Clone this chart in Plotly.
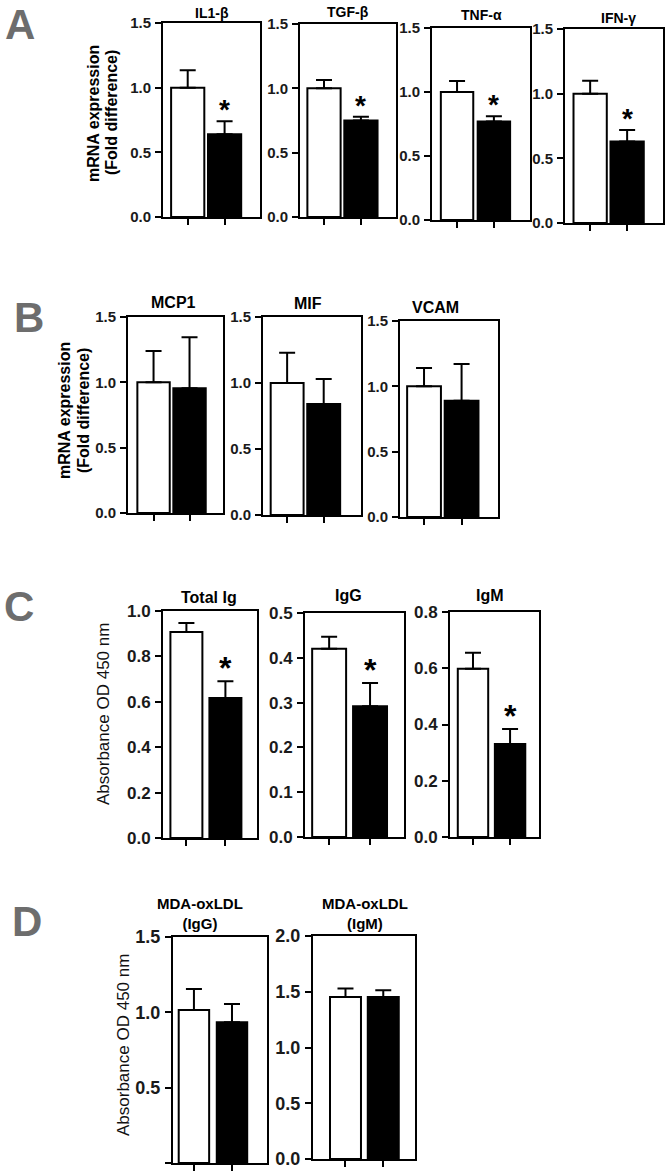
import plotly.graph_objects as go

W, H = 668, 1173

# ---------------- data ----------------
groups = ["Control", "Treated"]

a_titles = ["IL1-β", "TGF-β", "TNF-α", "IFN-γ"]
a_ctrl = [1.0, 1.0, 1.0, 1.0]
a_ctrl_err = [0.135, 0.065, 0.085, 0.10]
a_trt = [0.64, 0.75, 0.77, 0.63]
a_trt_err = [0.10, 0.03, 0.04, 0.09]
a_sig = [True, True, True, True]

b_titles = ["MCP1", "MIF", "VCAM"]
b_ctrl = [1.0, 1.0, 1.0]
b_ctrl_err = [0.24, 0.23, 0.14]
b_trt = [0.955, 0.84, 0.89]
b_trt_err = [0.39, 0.19, 0.28]
b_sig = [False, False, False]

c_titles = ["Total Ig", "IgG", "IgM"]
c_ctrl = [0.907, 0.42, 0.598]
c_ctrl_err = [0.04, 0.027, 0.057]
c_trt = [0.617, 0.292, 0.331]
c_trt_err = [0.073, 0.052, 0.053]
c_sig = [True, True, True]

d_titles = ["MDA-oxLDL<br>(IgG)", "MDA-oxLDL<br>(IgM)"]
d_ctrl = [1.015, 1.453]
d_ctrl_err = [0.14, 0.077]
d_trt = [0.935, 1.453]
d_trt_err = [0.12, 0.06]
d_sig = [False, False]

a_yticks = [[0, 0.5, 1.0, 1.5]] * 4
b_yticks = [[0, 0.5, 1.0, 1.5]] * 3
c_yticks = [[0, 0.2, 0.4, 0.6, 0.8, 1.0], [0, 0.1, 0.2, 0.3, 0.4, 0.5], [0, 0.2, 0.4, 0.6, 0.8]]
d_yticks = [[0, 0.5, 1.0, 1.5], [0, 0.5, 1.0, 1.5, 2.0]]

# ---------------- layout (pixel frames) ----------------
# (left, right, top, bottom, title_cx, title_cy, xmin, xmax, barwidth)
a_frames = [(163, 260, 23, 217, 212, 13, -0.67, 1.96, 0.9),
            (300, 396, 24, 217, 348, 12, -0.65, 1.95, 0.9),
            (432, 530, 28, 220, 481, 15, -0.68, 1.98, 0.88),
            (565, 663, 29, 223, 618, 18, -0.68, 1.97, 0.9)]
b_frames = [(128, 223, 317, 513, 173, 302, -0.71, 1.93, 0.9),
            (263, 361, 317, 515, 308, 303, -0.66, 2.02, 0.9),
            (400, 498, 321, 517, 435, 307, -0.64, 1.97, 0.9)]
c_frames = [(163, 257, 611, 838, 209, 597, -0.6, 1.81, 0.82),
            (305, 404, 613, 837, 348, 595, -0.59, 1.83, 0.83),
            (450, 539, 612, 837, 490, 595, -0.62, 1.78, 0.82)]
d_frames = [(173, 267, 937, 1163, 200, 913, -0.55, 1.92, 0.8),
            (313, 415, 936, 1159, 365, 913, -0.86, 1.84, 0.82)]

panels = []
for t, c, ce, tr, te, s, yt, fr in zip(a_titles, a_ctrl, a_ctrl_err, a_trt, a_trt_err, a_sig, a_yticks, a_frames):
    panels.append(dict(title=t, ctrl=c, ce=ce, trt=tr, te=te, sig=s, yt=yt, fr=fr,
                       tfs=14, tks=15, sfs=28, sshift=-6))
for t, c, ce, tr, te, s, yt, fr in zip(b_titles, b_ctrl, b_ctrl_err, b_trt, b_trt_err, b_sig, b_yticks, b_frames):
    panels.append(dict(title=t, ctrl=c, ce=ce, trt=tr, te=te, sig=s, yt=yt, fr=fr,
                       tfs=16, tks=15, sfs=28, sshift=-6))
for t, c, ce, tr, te, s, yt, fr in zip(c_titles, c_ctrl, c_ctrl_err, c_trt, c_trt_err, c_sig, c_yticks, c_frames):
    panels.append(dict(title=t, ctrl=c, ce=ce, trt=tr, te=te, sig=s, yt=yt, fr=fr,
                       tfs=16, tks=17, sfs=32, sshift=-7))
for t, c, ce, tr, te, s, yt, fr in zip(d_titles, d_ctrl, d_ctrl_err, d_trt, d_trt_err, d_sig, d_yticks, d_frames):
    panels.append(dict(title=t, ctrl=c, ce=ce, trt=tr, te=te, sig=s, yt=yt, fr=fr,
                       tfs=15, tks=18, sfs=32, sshift=-7))

FONT = "Liberation Sans, Arial, sans-serif"
fig = go.Figure()
layout = dict(width=W, height=H,
              margin=dict(l=0, r=0, t=0, b=0, pad=0, autoexpand=False),
              paper_bgcolor="white", plot_bgcolor="white", showlegend=False,
              font=dict(family=FONT, color="black"))
annotations = []

for i, p in enumerate(panels, start=1):
    l, r, t, b, tcx, tcy, xmin, xmax, bw = p["fr"]
    xa = "x" if i == 1 else f"x{i}"
    ya = "y" if i == 1 else f"y{i}"
    fig.add_trace(go.Bar(
        x=[0, 1], y=[p["ctrl"], p["trt"]], width=bw,
        xaxis=xa, yaxis=ya,
        marker=dict(color=["white", "black"], line=dict(color="black", width=2)),
        error_y=dict(type="data", symmetric=False, array=[p["ce"], p["te"]],
                     arrayminus=[0, 0], thickness=2, width=8, color="black"),
        hovertext=groups,
    ))
    ymax = p["yt"][-1]
    common = dict(showline=True, mirror=True, linewidth=2, linecolor="black",
                  showgrid=False, zeroline=False, ticks="outside", ticklen=6,
                  tickwidth=2, tickcolor="black", automargin=False)
    layout["xaxis" if i == 1 else f"xaxis{i}"] = dict(
        domain=[l / W, r / W], range=[xmin, xmax], tickvals=[0, 1],
        showticklabels=False, anchor=ya, fixedrange=True, **common)
    layout["yaxis" if i == 1 else f"yaxis{i}"] = dict(
        domain=[1 - b / H, 1 - t / H], range=[0, ymax], tickvals=p["yt"],
        tickformat=".1f", anchor=xa, ticklabelstandoff=1,
        tickfont=dict(family=FONT, size=p["tks"], color="#1a1a1a", weight="bold"),
        **common)
    annotations.append(dict(text=p["title"], xref="paper", yref="paper",
                            x=tcx / W, y=1 - tcy / H, xanchor="center", yanchor="middle",
                            showarrow=False,
                            font=dict(family=FONT, size=p["tfs"], color="black", weight="bold")))
    if p["sig"]:
        annotations.append(dict(text="*", xref=xa, yref=ya, x=1, y=p["trt"] + p["te"],
                                xanchor="center", yanchor="bottom", yshift=p["sshift"],
                                showarrow=False,
                                font=dict(family=FONT, size=p["sfs"], color="black", weight="bold")))

# panel letters
for letter, cx, cy in [("A", 20, 25), ("B", 29, 317), ("C", 19, 606), ("D", 27, 921)]:
    annotations.append(dict(text=letter, xref="paper", yref="paper", x=cx / W, y=1 - cy / H,
                            xanchor="center", yanchor="middle", showarrow=False,
                            font=dict(family=FONT, size=42, color="#6d6d6d", weight="bold")))

# y-axis titles (two lines each, placed individually)
for txt, cx, cy in [("mRNA expression", 93, 113), ("(Fold difference)", 111, 113),
                    ("mRNA expression", 65, 411), ("(Fold difference)", 84, 411)]:
    annotations.append(dict(text=txt, xref="paper", yref="paper", x=cx / W, y=1 - cy / H,
                            xanchor="center", yanchor="middle", textangle=-90, showarrow=False,
                            font=dict(family=FONT, size=16, color="black", weight="bold")))
for cx, cy in [(103, 714), (123, 1045)]:
    annotations.append(dict(text="Absorbance OD 450 nm", xref="paper", yref="paper",
                            x=cx / W, y=1 - cy / H, xanchor="center", yanchor="middle",
                            textangle=-90, showarrow=False,
                            font=dict(family=FONT, size=17, color="#111111")))

layout["annotations"] = annotations
fig.update_layout(**layout)
fig.write_html("out.html", config={"displayModeBar": False, "staticPlot": True},
               post_script="document.body.style.margin='0';document.body.style.padding='0';")
